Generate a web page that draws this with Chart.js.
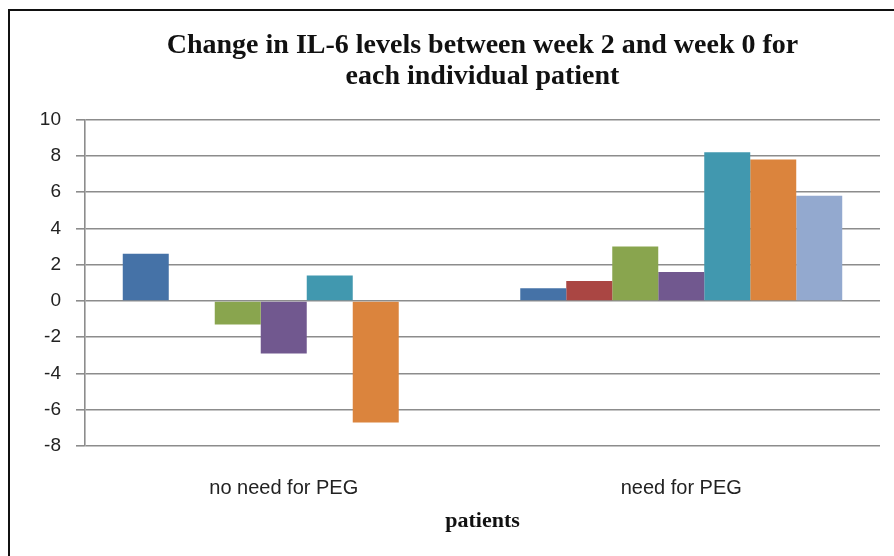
<!DOCTYPE html>
<html>
<head>
<meta charset="utf-8">
<script src="https://cdn.jsdelivr.net/npm/chart.js@4/dist/chart.umd.min.js"></script>
<style>
  html, body { margin: 0; padding: 0; background: #fff; overflow: hidden; }
  #frame {
    position: absolute; left: 8px; top: 9px;
    width: 886px; height: 547px;
    border-left: 2px solid #111; border-top: 2px solid #111;
  }
  #wrap { position: relative; width: 884px; height: 545px; }
</style>
</head>
<body>
<div id="frame"><div id="wrap"><canvas id="il6"></canvas></div></div>
<script>
// Categories on the x axis
const categories = ['no need for PEG', 'need for PEG'];

// One series per patient slot (null = no bar in that group)
const series1 = [2.6, 0.7];
const series2 = [null, 1.1];
const series3 = [-1.3, 3.0];
const series4 = [-2.9, 1.6];
const series5 = [1.4, 8.2];
const series6 = [-6.7, 7.8];
const series7 = [null, 5.8];

// Y axis range / ticks
const yMin = -8;
const yMax = 10;
const yStep = 2;

const seriesValues = [series1, series2, series3, series4, series5, series6, series7];
const seriesColors = ['#4572A7', '#AA4643', '#89A54E', '#71588F', '#4198AF', '#DB843D', '#93A9CF'];

const GRID = '#8c8c8c';
const SANS = "'Liberation Sans', Arial, sans-serif";
const SERIF = "'Liberation Serif', 'Times New Roman', serif";

const datasets = seriesValues.map((vals, i) => ({
  label: 'Series ' + (i + 1),
  data: vals,
  backgroundColor: seriesColors[i],
  borderWidth: 0,
  categoryPercentage: 0.81,
  barPercentage: 1.0
}));

new Chart(document.getElementById('il6'), {
  type: 'bar',
  data: { labels: categories, datasets: datasets },
  options: {
    responsive: true,
    maintainAspectRatio: false,
    animation: false,
    layout: { padding: { left: 0, right: 14, top: 0, bottom: 21 } },
    plugins: {
      legend: { display: false },
      tooltip: { enabled: false },
      title: {
        display: true,
        fullSize: false,
        text: ['Change in IL-6 levels between week 2 and week 0 for', 'each individual patient'],
        color: '#111',
        font: { family: SERIF, size: 28, weight: 'bold', lineHeight: 1.12 },
        padding: { top: 19, bottom: 27 }
      }
    },
    scales: {
      x: {
        grid: { display: false, drawTicks: false },
        border: { display: false },
        // fixed height so the labels and the axis title sit where the original has them
        afterFit: (scale) => { scale.height = 89; },
        ticks: { color: '#222', font: { family: SANS, size: 20 }, padding: 30 },
        title: {
          display: true,
          text: 'patients',
          color: '#111',
          font: { family: SERIF, size: 22, weight: 'bold' },
          padding: 0
        }
      },
      y: {
        min: yMin,
        max: yMax,
        afterFit: (scale) => { scale.width = 75; },
        ticks: { stepSize: yStep, color: '#222', font: { family: SANS, size: 19 }, padding: 15 },
        grid: { color: GRID, lineWidth: 1.6, tickLength: 9, tickColor: GRID },
        border: { display: true, color: GRID, width: 1.6 }
      }
    }
  }
});
</script>
</body>
</html>
